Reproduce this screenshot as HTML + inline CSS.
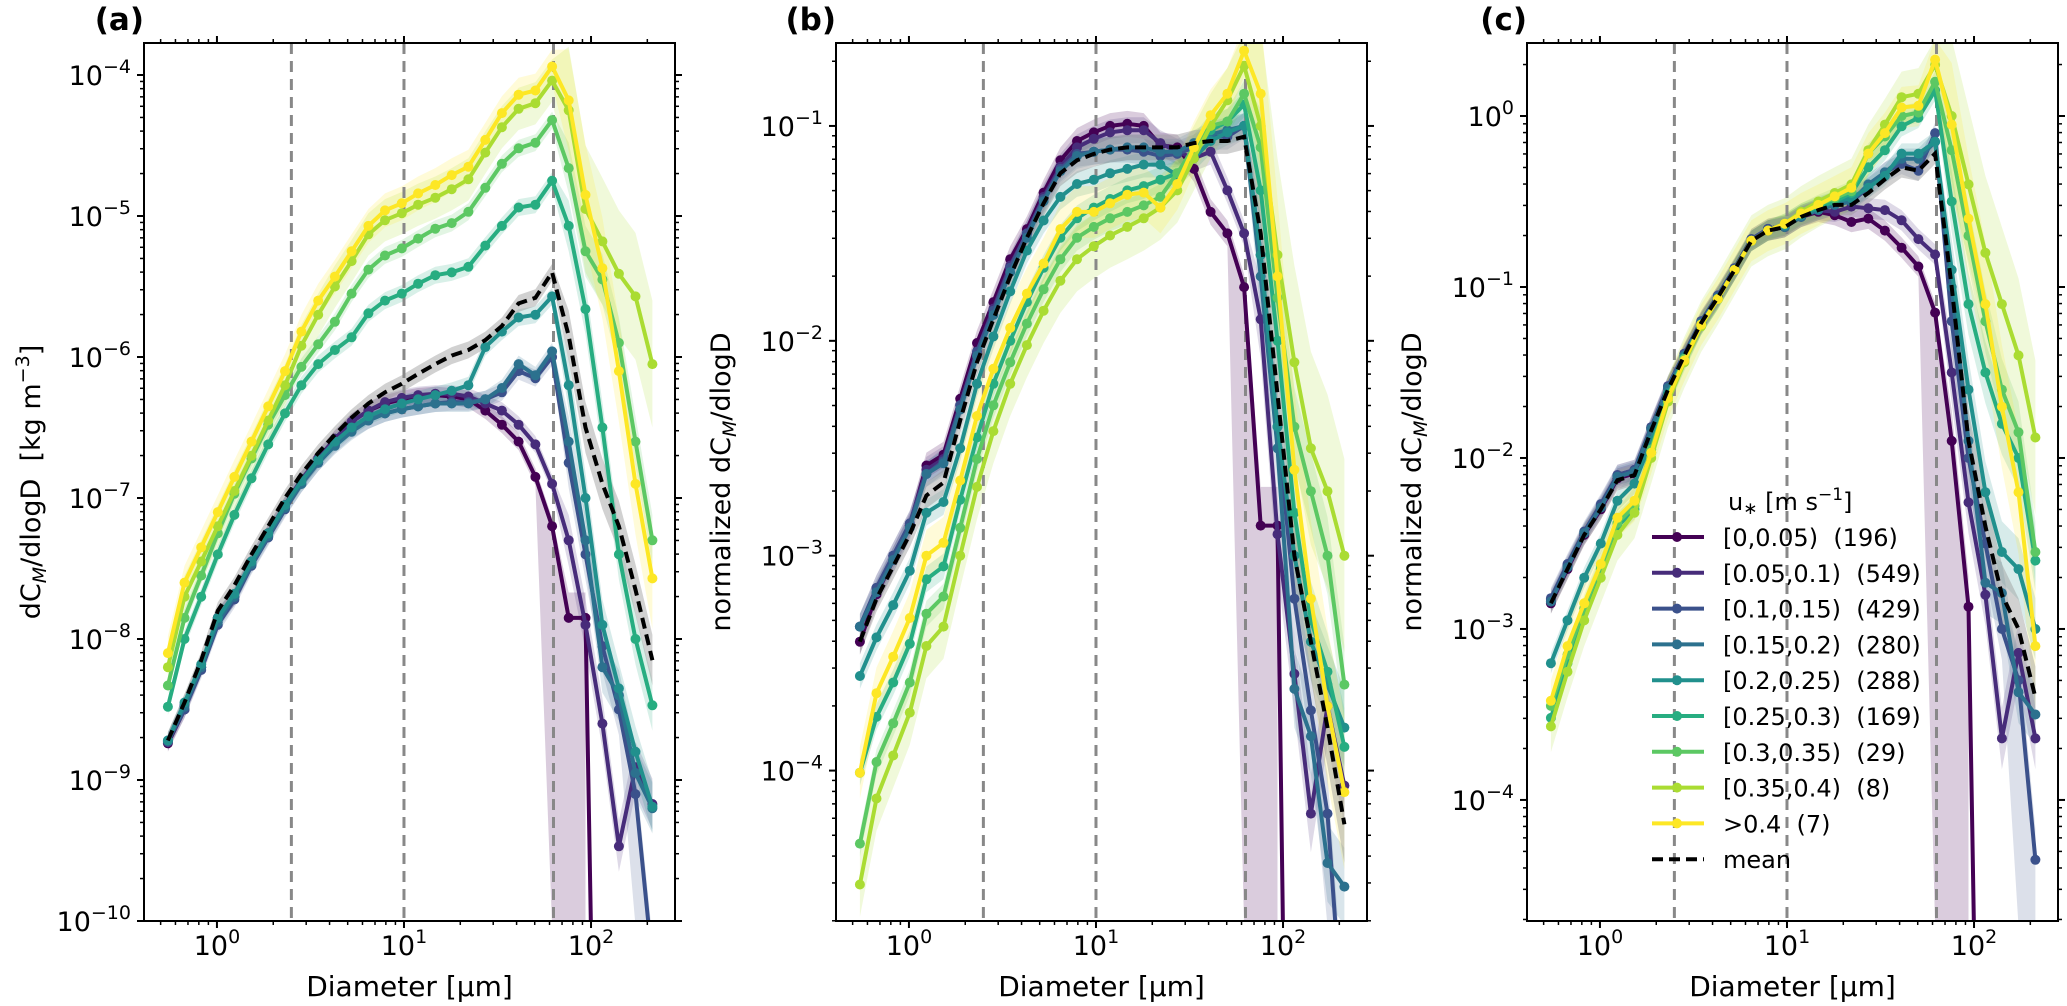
<!DOCTYPE html>
<html><head><meta charset="utf-8">
<style>
html,body{margin:0;padding:0;background:#fff;}
svg{display:block;font-family:"DejaVu Sans","Liberation Sans",sans-serif;}
text{white-space:pre;}
</style></head>
<body>
<svg id="fig" width="2067" height="1006" viewBox="0 0 2067 1006" xmlns="http://www.w3.org/2000/svg"></svg>
<script>
// ---- data (diameter bins, µm) ----
const diam = [0.547,0.671,0.824,1.01,1.24,1.53,1.88,2.31,2.83,3.48,4.27,5.25,6.45,7.92,9.73,11.9,14.7,18.0,22.1,27.2,33.4,41.0,50.4,61.9,76.0,93.4,115,141,173,213];
const seriesLabels = ["[0,0.05)  (196)","[0.05,0.1)  (549)","[0.1,0.15)  (429)","[0.15,0.2)  (280)","[0.2,0.25)  (288)","[0.25,0.3)  (169)","[0.3,0.35)  (29)","[0.35,0.4)  (8)",">0.4  (7)"];
const refLines = [2.5, 10, 63];
// panel (a): log10 dC/dlogD
const a0 = [-8.74,-8.5,-8.2,-7.85,-7.7,-7.45,-7.25,-7.05,-6.87,-6.72,-6.58,-6.46,-6.38,-6.33,-6.3,-6.28,-6.27,-6.28,-6.3,-6.38,-6.48,-6.6,-6.85,-7.2,-7.85,-7.85,null,null,null,null];
const a1 = [-8.73,-8.47,-8.2,-7.85,-7.7,-7.45,-7.25,-7.05,-6.87,-6.72,-6.58,-6.46,-6.38,-6.32,-6.29,-6.27,-6.26,-6.26,-6.28,-6.33,-6.38,-6.48,-6.62,-6.9,-7.3,-7.9,-8.6,-9.47,-8.91,-9.17];
const a2 = [-8.73,-8.5,-8.22,-7.9,-7.72,-7.48,-7.28,-7.08,-6.9,-6.75,-6.62,-6.52,-6.45,-6.4,-6.37,-6.35,-6.33,-6.32,-6.32,-6.3,-6.25,-6.1,-6.15,-6.0,-6.75,-7.4,-8.05,-8.5,-9.1,-10.3];
const a3 = [-8.72,-8.48,-8.2,-7.88,-7.7,-7.47,-7.27,-7.07,-6.9,-6.75,-6.63,-6.53,-6.45,-6.4,-6.37,-6.35,-6.33,-6.33,-6.33,-6.3,-6.22,-6.05,-6.13,-5.96,-6.6,-7.3,-8.2,-8.4,-8.95,-9.2];
const a4 = [-8.72,-8.45,-8.18,-7.85,-7.68,-7.45,-7.25,-7.05,-6.88,-6.73,-6.6,-6.5,-6.42,-6.37,-6.33,-6.3,-6.27,-6.24,-6.2,-5.93,-5.82,-5.72,-5.7,-5.57,-6.2,-7.0,-7.9,-8.35,-8.8,-9.19];
const a5 = [-8.48,-8.0,-7.7,-7.4,-7.12,-6.86,-6.62,-6.4,-6.2,-6.05,-5.95,-5.86,-5.69,-5.6,-5.55,-5.48,-5.42,-5.4,-5.36,-5.21,-5.07,-4.94,-4.92,-4.75,-5.07,-5.66,-6.5,-7.4,-8.0,-8.47];
const a6 = [-8.33,-7.85,-7.55,-7.25,-6.97,-6.72,-6.48,-6.27,-6.07,-5.91,-5.75,-5.55,-5.38,-5.28,-5.23,-5.16,-5.09,-5.05,-4.97,-4.8,-4.63,-4.52,-4.48,-4.32,-4.66,-5.25,-5.45,-5.9,-6.6,-7.3];
const a7 = [-8.2,-7.7,-7.45,-7.2,-6.95,-6.7,-6.45,-6.2,-5.92,-5.7,-5.5,-5.32,-5.13,-5.03,-4.98,-4.92,-4.87,-4.81,-4.74,-4.55,-4.37,-4.24,-4.2,-4.04,-4.25,-4.95,-5.18,-5.41,-5.57,-6.05];
const a8 = [-8.1,-7.6,-7.35,-7.1,-6.85,-6.6,-6.35,-6.1,-5.82,-5.6,-5.43,-5.25,-5.07,-4.96,-4.91,-4.84,-4.78,-4.71,-4.65,-4.46,-4.27,-4.14,-4.11,-3.94,-4.18,-4.85,-5.37,-6.1,-6.9,-7.57];
const aMean = [-8.72,-8.45,-8.15,-7.8,-7.62,-7.4,-7.2,-7.0,-6.83,-6.68,-6.55,-6.43,-6.33,-6.25,-6.19,-6.12,-6.05,-5.99,-5.95,-5.88,-5.78,-5.62,-5.58,-5.4,-5.85,-6.5,-6.9,-7.2,-7.65,-8.15];
// panel (b): log10 normalized
const b0 = [-3.40,-3.18,-3.02,-2.86,-2.58,-2.53,-2.27,-2.01,-1.82,-1.62,-1.48,-1.31,-1.16,-1.07,-1.03,-1.0,-0.99,-1.0,-1.09,-1.1,-1.2,-1.4,-1.5,-1.75,-2.86,-2.86,null,null,null,null];
const b1 = [-3.33,-3.15,-3.0,-2.85,-2.6,-2.55,-2.3,-2.05,-1.85,-1.65,-1.5,-1.33,-1.19,-1.1,-1.06,-1.03,-1.02,-1.02,-1.08,-1.12,-1.15,-1.12,-1.3,-1.5,-1.9,-2.9,-3.55,-4.2,-3.7,-4.07];
const b2 = [-3.33,-3.15,-3.0,-2.85,-2.62,-2.56,-2.3,-2.05,-1.86,-1.66,-1.5,-1.34,-1.2,-1.13,-1.12,-1.11,-1.11,-1.12,-1.14,-1.13,-1.1,-1.05,-1.05,-1.0,-1.6,-2.4,-3.2,-3.72,-4.2,-5.3];
const b3 = [-3.33,-3.17,-3.02,-2.87,-2.62,-2.57,-2.32,-2.07,-1.88,-1.68,-1.52,-1.35,-1.21,-1.14,-1.12,-1.11,-1.1,-1.1,-1.12,-1.12,-1.08,-1.04,-1.02,-1.0,-1.7,-2.5,-3.62,-3.84,-4.43,-4.54];
const b4 = [-3.56,-3.38,-3.23,-3.07,-2.80,-2.75,-2.5,-2.2,-1.98,-1.77,-1.58,-1.44,-1.33,-1.27,-1.25,-1.22,-1.2,-1.18,-1.18,-1.23,-1.15,-1.07,-1.03,-1.0,-1.6,-2.4,-3.0,-3.4,-3.6,-3.8];
const b5 = [-4.01,-3.75,-3.59,-3.41,-3.11,-3.05,-2.74,-2.45,-2.2,-2.0,-1.82,-1.66,-1.52,-1.43,-1.38,-1.34,-1.3,-1.28,-1.25,-1.22,-1.12,-1.02,-0.98,-0.9,-1.3,-2.0,-2.8,-3.3,-3.54,-3.89];
const b6 = [-4.34,-3.96,-3.78,-3.59,-3.27,-3.19,-2.87,-2.55,-2.3,-2.1,-1.92,-1.76,-1.62,-1.52,-1.47,-1.43,-1.4,-1.37,-1.33,-1.22,-1.1,-1.0,-0.98,-0.85,-1.1,-1.8,-2.4,-2.7,-3.0,-3.6];
const b7 = [-4.53,-4.13,-3.93,-3.73,-3.42,-3.33,-3.0,-2.68,-2.42,-2.2,-2.02,-1.86,-1.72,-1.62,-1.56,-1.51,-1.47,-1.43,-1.38,-1.3,-1.15,-1.0,-0.88,-0.72,-1.0,-1.6,-2.1,-2.5,-2.7,-3.0];
const b8 = [-4.01,-3.64,-3.47,-3.29,-3.0,-2.94,-2.65,-2.35,-2.13,-1.94,-1.78,-1.64,-1.48,-1.40,-1.4,-1.36,-1.32,-1.31,-1.38,-1.27,-1.1,-0.95,-0.85,-0.65,-0.85,-1.7,-2.6,-3.2,-3.7,-4.1];
const bMean = [-3.40,-3.2,-3.05,-2.9,-2.72,-2.66,-2.37,-2.1,-1.9,-1.7,-1.52,-1.36,-1.22,-1.16,-1.13,-1.11,-1.1,-1.1,-1.1,-1.1,-1.08,-1.07,-1.07,-1.05,-1.5,-2.25,-3.0,-3.4,-3.8,-4.25];
// panel (c): log10 normalized at reference size
const c0 = [-2.85,-2.65,-2.45,-2.3,-2.12,-2.09,-1.83,-1.59,-1.40,-1.21,-1.06,-0.9,-0.73,-0.67,-0.65,-0.59,-0.56,-0.58,-0.62,-0.6,-0.67,-0.77,-0.88,-1.15,-1.9,-2.87,null,null,null,null];
const c1 = [-2.83,-2.63,-2.44,-2.28,-2.1,-2.07,-1.82,-1.58,-1.39,-1.2,-1.05,-0.89,-0.72,-0.66,-0.64,-0.58,-0.55,-0.56,-0.53,-0.54,-0.55,-0.61,-0.72,-0.81,-1.5,-2.26,-2.8,-3.64,-3.14,-3.64];
const c2 = [-2.82,-2.62,-2.43,-2.27,-2.1,-2.07,-1.82,-1.58,-1.39,-1.2,-1.05,-0.89,-0.72,-0.66,-0.64,-0.58,-0.54,-0.5,-0.5,-0.42,-0.33,-0.28,-0.32,-0.1,-1.2,-2.0,-2.5,-3.0,-3.3,-4.35];
const c3 = [-2.84,-2.64,-2.44,-2.29,-2.11,-2.08,-1.83,-1.59,-1.4,-1.21,-1.06,-0.9,-0.73,-0.67,-0.65,-0.59,-0.55,-0.52,-0.5,-0.4,-0.33,-0.25,-0.25,-0.15,-1.0,-1.9,-2.73,-2.79,-3.37,-3.5];
const c4 = [-3.2,-2.95,-2.7,-2.5,-2.25,-2.15,-1.9,-1.62,-1.41,-1.22,-1.07,-0.9,-0.73,-0.67,-0.64,-0.58,-0.54,-0.5,-0.48,-0.42,-0.35,-0.22,-0.22,-0.15,-0.9,-1.6,-2.2,-2.55,-2.65,-3.0];
const c5 = [-3.52,-3.2,-2.9,-2.65,-2.4,-2.3,-1.97,-1.65,-1.43,-1.22,-1.07,-0.9,-0.73,-0.67,-0.63,-0.57,-0.53,-0.5,-0.45,-0.3,-0.2,-0.06,-0.01,0.15,-0.5,-1.1,-1.5,-1.8,-2.0,-2.6];
const c6 = [-3.45,-3.15,-2.88,-2.63,-2.38,-2.28,-1.95,-1.64,-1.42,-1.22,-1.07,-0.9,-0.73,-0.67,-0.63,-0.57,-0.52,-0.48,-0.44,-0.22,-0.12,0.0,0.02,0.2,-0.2,-0.7,-1.2,-1.6,-1.85,-2.55];
const c7 = [-3.57,-3.25,-2.95,-2.7,-2.45,-2.32,-2.0,-1.67,-1.44,-1.23,-1.07,-0.9,-0.73,-0.67,-0.63,-0.56,-0.5,-0.45,-0.4,-0.2,-0.05,0.11,0.13,0.3,0.0,-0.4,-0.8,-1.1,-1.4,-1.88];
const c8 = [-3.42,-3.1,-2.85,-2.62,-2.35,-2.25,-1.97,-1.65,-1.43,-1.22,-1.07,-0.9,-0.73,-0.67,-0.63,-0.57,-0.52,-0.47,-0.42,-0.22,-0.1,0.05,0.06,0.33,-0.05,-0.6,-1.1,-1.7,-2.2,-3.1];
const cMean = [-2.85,-2.65,-2.45,-2.3,-2.13,-2.1,-1.84,-1.6,-1.4,-1.21,-1.06,-0.9,-0.73,-0.67,-0.65,-0.59,-0.55,-0.52,-0.52,-0.45,-0.37,-0.3,-0.32,-0.22,-1.0,-1.9,-2.4,-2.8,-3.0,-3.4];

const colors = ["#440154","#472c7a","#3b518b","#2c718e","#21908d","#27ad81","#5cc863","#aadc32","#fde725"];
const NS = "http://www.w3.org/2000/svg";
const svg = document.getElementById('fig');
function mk(tag, attrs, parent){ const e=document.createElementNS(NS,tag); for(const k in attrs) e.setAttribute(k,attrs[k]); (parent||svg).appendChild(e); return e; }

const panels = [
 {id:'a', L:144, R:675, T:43, B:921, ymin:-10, ymax:-3.773, series:[a0,a1,a2,a3,a4,a5,a6,a7,a8], mean:aMean, decs:[-10,-9,-8,-7,-6,-5,-4]},
 {id:'b', L:836, R:1367, T:43, B:921, ymin:-4.70, ymax:-0.614, series:[b0,b1,b2,b3,b4,b5,b6,b7,b8], mean:bMean, decs:[-4,-3,-2,-1]},
 {id:'c', L:1527, R:2058, T:43, B:921, ymin:-4.708, ymax:0.427, series:[c0,c1,c2,c3,c4,c5,c6,c7,c8], mean:cMean, decs:[-4,-3,-2,-1,0]}
];
const XMIN=-0.39, XMAX=2.449;

function supText(parent, x, y, base, exp, anchor, size, name){
  const t = mk('text',{x:x,y:y,'font-size':size,'text-anchor':anchor,fill:'#000'},parent);
  
  
  t.appendChild(document.createTextNode(base));
  const s = mk('tspan',{dy:-12,'font-size':Math.round(size*0.7)},t);
  s.textContent = exp;
  return t;
}
function fmtExp(d){ return d<0 ? '\u2212'+Math.abs(d) : String(d); }

panels.forEach((p,pi)=>{
  const g = mk('g',{});
  
  
  const xS = v => p.L + (Math.log10(v)-XMIN)/(XMAX-XMIN)*(p.R-p.L);
  const yS = v => p.B - (v-p.ymin)/(p.ymax-p.ymin)*(p.B-p.T);
  const clip = mk('clipPath',{id:'clip'+p.id},g);
  mk('rect',{x:p.L,y:p.T,width:p.R-p.L,height:p.B-p.T},clip);
  const plot = mk('g',{'clip-path':'url(#clip'+p.id+')'},g);
  
  

  const all = p.series.concat([p.mean]);
  all.forEach((arr,si)=>{
    const isMean = si===9;
    const base = (si===7?0.15:(si===8?0.12:0.06));
    const up=[], lo=[];
    arr.forEach((v,i)=>{
      if(v===null) return;
      const d = i>=24 ? base*3 : base;
      up.push([xS(diam[i]), yS(v+d)]);
      const lowZero = (si===0 && i>=23) || (si===2 && i>=28);
      lo.push([xS(diam[i]), lowZero ? p.B+5 : yS(v-d)]);
    });
    const pts = up.concat(lo.reverse()).map(q=>q[0].toFixed(1)+','+q[1].toFixed(1)).join(' ');
    const band = mk('polygon',{points:pts, fill: isMean?'#999':colors[si], 'fill-opacity': isMean?0.45:(si===0?0.2:0.18), stroke:'none'},plot);
    
    
  });

  refLines.forEach((r,ri)=>{
    const l = mk('line',{x1:xS(r),x2:xS(r),y1:p.T,y2:p.B,stroke:'#888','stroke-width':3,'stroke-dasharray':'11,7'},plot);
    
    
  });

  p.series.forEach((arr,si)=>{
    const sg = mk('g',{},plot);
    
    
    const pts=[]; let lastIdx=-1;
    arr.forEach((v,i)=>{ if(v!==null){ pts.push([xS(diam[i]),yS(v)]); lastIdx=i; } });
    if(lastIdx < arr.length-1){ pts.push([xS(100), p.B+10]); }
    mk('polyline',{points:pts.map(q=>q[0].toFixed(1)+','+q[1].toFixed(1)).join(' '),fill:'none',stroke:colors[si],'stroke-width':4,'stroke-linejoin':'round'},sg);
    arr.forEach((v,i)=>{
      if(v===null) return;
      const c = mk('circle',{cx:xS(diam[i]).toFixed(1),cy:yS(v).toFixed(1),r:5,fill:colors[si]},sg);
      
      
    });
  });
  const mpts = p.mean.map((v,i)=>xS(diam[i]).toFixed(1)+','+yS(v).toFixed(1)).join(' ');
  const ml = mk('polyline',{points:mpts,fill:'none',stroke:'#000','stroke-width':4,'stroke-dasharray':'11,6'},plot);
  
  

  const fr = mk('rect',{x:p.L,y:p.T,width:p.R-p.L,height:p.B-p.T,fill:'none',stroke:'#000','stroke-width':2},g);
  
  

  for(let d=-1; d<=2; d++){
    for(let m=1;m<=9;m++){
      const v=m*Math.pow(10,d); const lv=Math.log10(v);
      if(lv<XMIN||lv>XMAX) continue;
      const x=xS(v); const len = m===1?7:4; const w = m===1?2:1.5;
      mk('line',{x1:x,x2:x,y1:p.B,y2:p.B+len,stroke:'#000','stroke-width':w},g);
      mk('line',{x1:x,x2:x,y1:p.T,y2:p.T-len,stroke:'#000','stroke-width':w},g);
    }
  }
  [0,1,2].forEach(d=>{ supText(g, xS(Math.pow(10,d)), 955, '10', String(d), 'middle', 27, 'x-tick-label'); });
  for(let d=Math.floor(p.ymin); d<=Math.ceil(p.ymax); d++){
    for(let m=1;m<=9;m++){
      const lv=d+Math.log10(m);
      if(lv<p.ymin-1e-6||lv>p.ymax) continue;
      const y=yS(lv); const len = m===1?7:4; const w = m===1?2:1.5;
      mk('line',{x1:p.L,x2:p.L-len,y1:y,y2:y,stroke:'#000','stroke-width':w},g);
      mk('line',{x1:p.R,x2:p.R+len,y1:y,y2:y,stroke:'#000','stroke-width':w},g);
    }
  }
  p.decs.forEach(d=>{ supText(g, p.L-13, yS(d)+10, '10', fmtExp(d), 'end', 27, 'y-tick-label'); });

  const xl = mk('text',{x:(p.L+p.R)/2,y:996,'font-size':28,'text-anchor':'middle'},g);
  
  
  xl.textContent='Diameter [\u00b5m]';
  const pl = mk('text',{x:p.L,y:30,'font-size':31,'font-weight':'bold','text-anchor':'end'},g);
  
  
  pl.textContent='('+p.id+')';
  const yx = p.id==='a' ? 40 : p.L-106;
  const yl = mk('text',{x:0,y:0,'font-size':27,'text-anchor':'middle',transform:'translate('+yx+','+(p.T+p.B)/2+') rotate(-90)'},g);
  
  
  const pre = p.id==='a' ? 'dC' : 'normalized dC';
  yl.appendChild(document.createTextNode(pre));
  const sub = mk('tspan',{dy:6,'font-size':19,'font-style':'italic'},yl); sub.textContent='M';
  const rest = mk('tspan',{dy:-6},yl); rest.textContent = p.id==='a' ? '/dlogD  [kg m' : '/dlogD';
  if(p.id==='a'){
    const sp = mk('tspan',{dy:-11,'font-size':19},yl); sp.textContent='\u22123';
    const cl = mk('tspan',{dy:11},yl); cl.textContent=']';
  }
});

const leg = mk('g',{});


const lt = mk('text',{x:1728,y:510,'font-size':24},leg);


lt.appendChild(document.createTextNode('u'));
const ls = mk('tspan',{dy:4,'font-size':17},lt); ls.textContent='\u2217';
const lr = mk('tspan',{dy:-4},lt); lr.textContent=' [m s';
const le = mk('tspan',{dy:-10,'font-size':17},lt); le.textContent='\u22121';
const lc = mk('tspan',{dy:10},lt); lc.textContent=']';
seriesLabels.forEach((lab,k)=>{
  const y = 537 + 35.8*k;
  const e = mk('g',{},leg);
  
  
  mk('line',{x1:1652,x2:1704,y1:y,y2:y,stroke:colors[k],'stroke-width':4},e);
  mk('circle',{cx:1677,cy:y,r:5,fill:colors[k]},e);
  const t = mk('text',{x:1723,y:y+9,'font-size':24},e);
  t.textContent = lab;
});
const me = mk('g',{},leg);


const my = 537+35.8*9;
mk('line',{x1:1652,x2:1704,y1:my,y2:my,stroke:'#000','stroke-width':4,'stroke-dasharray':'11,6'},me);
const mt = mk('text',{x:1723,y:my+9,'font-size':24},me); mt.textContent='mean';
</script>
</body></html>
